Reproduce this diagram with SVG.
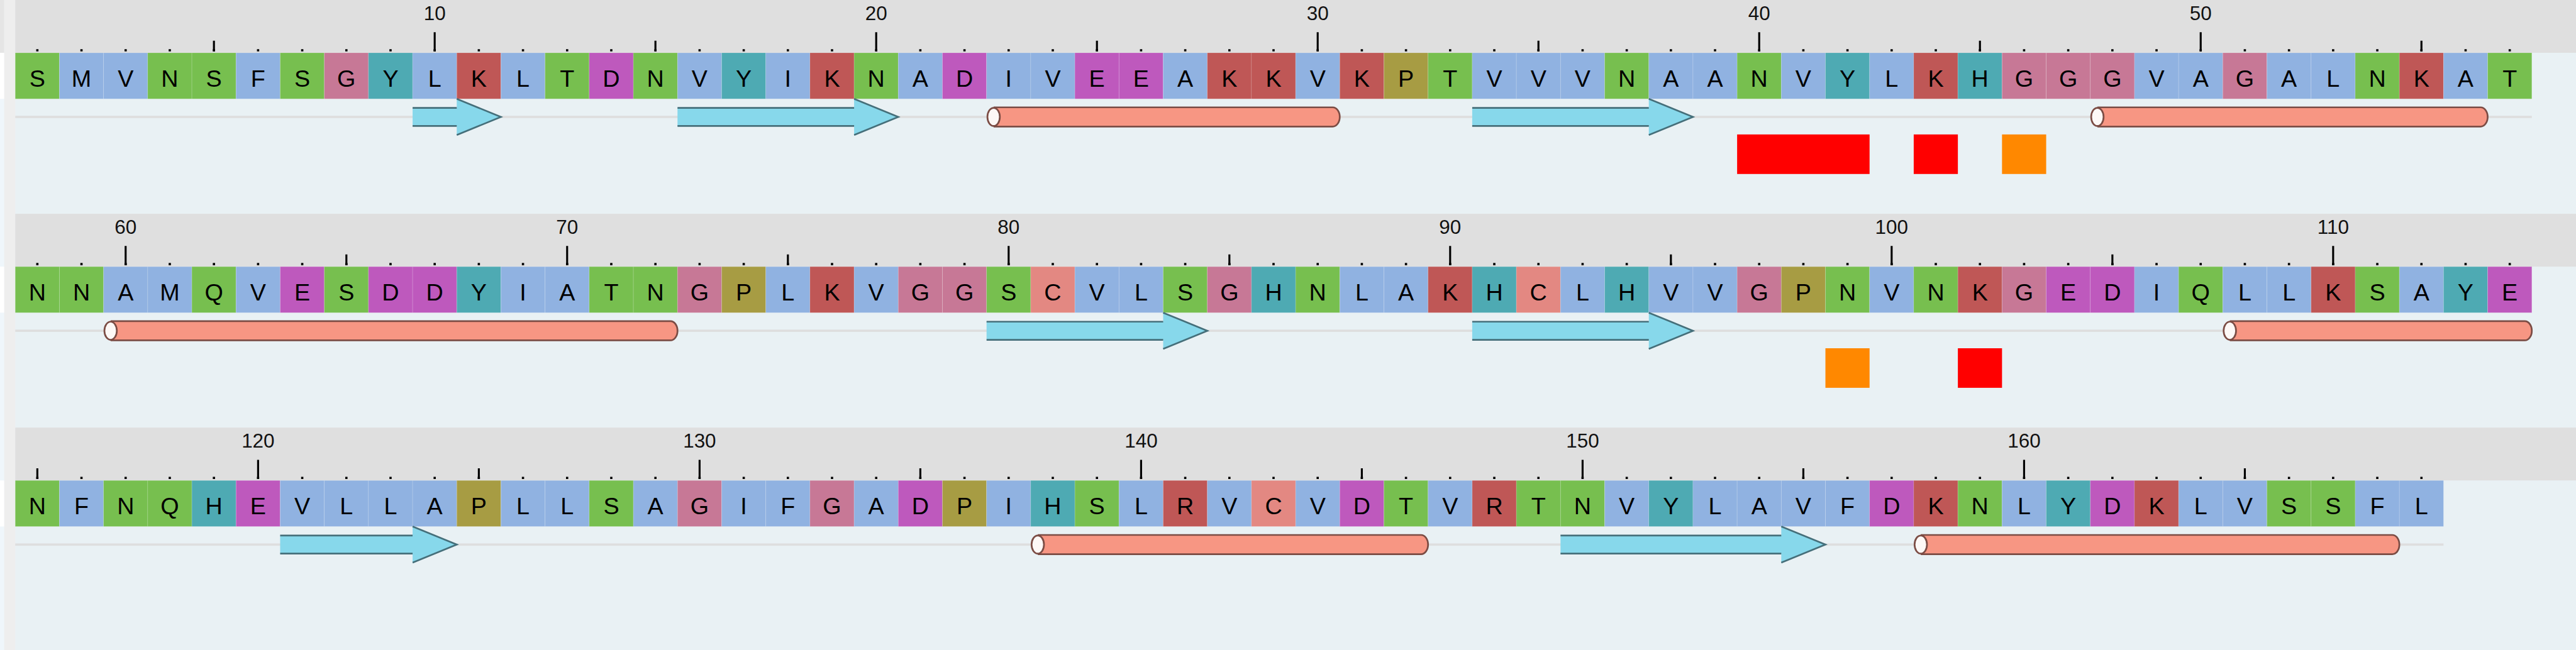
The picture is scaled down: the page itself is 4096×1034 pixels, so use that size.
<svg xmlns="http://www.w3.org/2000/svg" width="4096" height="1034" viewBox="0 0 4096 1034">
<defs>
<style>
.res rect{stroke:#ffffff;stroke-opacity:0.18;stroke-width:1}
.res text{font-family:"Liberation Sans",Arial,sans-serif;font-size:42px;text-anchor:middle;fill:#000}
.cg rect{fill:#77bf4f}
.cb rect{fill:#90b2e1}
.cG rect{fill:#c77896}
.cc rect{fill:#e38882}
.cy rect{fill:#4eaab3}
.ck rect{fill:#bf5756}
.cd rect{fill:#be59bd}
.cp rect{fill:#a79c43}
.band{fill:#dfdfdf}
.dots{stroke:#000;stroke-width:4;stroke-dasharray:4 74.12;fill:none}
.ticks{stroke:#000;stroke-width:3.5;fill:none}
.num{font-family:"Liberation Sans",Arial,sans-serif;font-size:35px;text-anchor:middle;fill:#111}
.ssline{fill:#dedede}
.sfill{fill:#87d8eb;stroke:none}
.sline{fill:none;stroke:#456f7a;stroke-width:3;stroke-linejoin:miter}
.hbody{fill:#f79683;stroke:#7b4c44;stroke-width:3}
.hend{fill:#fdf8f6;stroke:#7b4c44;stroke-width:3}
.red{fill:#ff0000}
.org{fill:#ff8800}
</style>
</defs>
<g transform="scale(0.898639)">
<rect x="0" y="0" width="4558" height="1151" fill="#e9f1f4"/>
<g id="left-strip">
<rect x="0" y="0" width="7.5" height="1151" fill="#eff6fb"/>
<rect x="0" y="0" width="7.5" height="93.5" fill="#e5e5e5"/>
<rect x="0" y="93.5" width="7.5" height="81.5" fill="#ffffff"/>
<rect x="0" y="472" width="7.5" height="81.5" fill="#ffffff"/>
<rect x="0" y="850.5" width="7.5" height="81.5" fill="#ffffff"/>
<rect x="7.5" y="0" width="19.5" height="1151" fill="#eeeeee"/>
</g>

<!-- ROW 1 -->
<g id="row1" transform="translate(0,0)">
<rect class="band" x="27" y="0" width="4531" height="93.5"/>
<path class="dots" d="M64.06 89H4443"/>
<path class="ticks" d="M378.54 72V91M1159.74 72V91M1940.94 72V91M2722.14 72V91M3503.34 72V91M4284.54 72V91M769.14 57V91M1550.34 57V91M2331.54 57V91M3112.74 57V91M3893.94 57V91"/>
<text class="num" x="769.14" y="35.5">10</text>
<text class="num" x="1550.34" y="35.5">20</text>
<text class="num" x="2331.54" y="35.5">30</text>
<text class="num" x="3112.74" y="35.5">40</text>
<text class="num" x="3893.94" y="35.5">50</text>
<g id="r1" class="res cg"><rect x="27" y="93.5" width="78.12" height="81.5"/><text x="66.06" y="153.5">S</text></g>
<g id="r2" class="res cb"><rect x="105.12" y="93.5" width="78.12" height="81.5"/><text x="144.18" y="153.5">M</text></g>
<g id="r3" class="res cb"><rect x="183.24" y="93.5" width="78.12" height="81.5"/><text x="222.3" y="153.5">V</text></g>
<g id="r4" class="res cg"><rect x="261.36" y="93.5" width="78.12" height="81.5"/><text x="300.42" y="153.5">N</text></g>
<g id="r5" class="res cg"><rect x="339.48" y="93.5" width="78.12" height="81.5"/><text x="378.54" y="153.5">S</text></g>
<g id="r6" class="res cb"><rect x="417.6" y="93.5" width="78.12" height="81.5"/><text x="456.66" y="153.5">F</text></g>
<g id="r7" class="res cg"><rect x="495.72" y="93.5" width="78.12" height="81.5"/><text x="534.78" y="153.5">S</text></g>
<g id="r8" class="res cG"><rect x="573.84" y="93.5" width="78.12" height="81.5"/><text x="612.9" y="153.5">G</text></g>
<g id="r9" class="res cy"><rect x="651.96" y="93.5" width="78.12" height="81.5"/><text x="691.02" y="153.5">Y</text></g>
<g id="r10" class="res cb"><rect x="730.08" y="93.5" width="78.12" height="81.5"/><text x="769.14" y="153.5">L</text></g>
<g id="r11" class="res ck"><rect x="808.2" y="93.5" width="78.12" height="81.5"/><text x="847.26" y="153.5">K</text></g>
<g id="r12" class="res cb"><rect x="886.32" y="93.5" width="78.12" height="81.5"/><text x="925.38" y="153.5">L</text></g>
<g id="r13" class="res cg"><rect x="964.44" y="93.5" width="78.12" height="81.5"/><text x="1003.5" y="153.5">T</text></g>
<g id="r14" class="res cd"><rect x="1042.56" y="93.5" width="78.12" height="81.5"/><text x="1081.62" y="153.5">D</text></g>
<g id="r15" class="res cg"><rect x="1120.68" y="93.5" width="78.12" height="81.5"/><text x="1159.74" y="153.5">N</text></g>
<g id="r16" class="res cb"><rect x="1198.8" y="93.5" width="78.12" height="81.5"/><text x="1237.86" y="153.5">V</text></g>
<g id="r17" class="res cy"><rect x="1276.92" y="93.5" width="78.12" height="81.5"/><text x="1315.98" y="153.5">Y</text></g>
<g id="r18" class="res cb"><rect x="1355.04" y="93.5" width="78.12" height="81.5"/><text x="1394.1" y="153.5">I</text></g>
<g id="r19" class="res ck"><rect x="1433.16" y="93.5" width="78.12" height="81.5"/><text x="1472.22" y="153.5">K</text></g>
<g id="r20" class="res cg"><rect x="1511.28" y="93.5" width="78.12" height="81.5"/><text x="1550.34" y="153.5">N</text></g>
<g id="r21" class="res cb"><rect x="1589.4" y="93.5" width="78.12" height="81.5"/><text x="1628.46" y="153.5">A</text></g>
<g id="r22" class="res cd"><rect x="1667.52" y="93.5" width="78.12" height="81.5"/><text x="1706.58" y="153.5">D</text></g>
<g id="r23" class="res cb"><rect x="1745.64" y="93.5" width="78.12" height="81.5"/><text x="1784.7" y="153.5">I</text></g>
<g id="r24" class="res cb"><rect x="1823.76" y="93.5" width="78.12" height="81.5"/><text x="1862.82" y="153.5">V</text></g>
<g id="r25" class="res cd"><rect x="1901.88" y="93.5" width="78.12" height="81.5"/><text x="1940.94" y="153.5">E</text></g>
<g id="r26" class="res cd"><rect x="1980" y="93.5" width="78.12" height="81.5"/><text x="2019.06" y="153.5">E</text></g>
<g id="r27" class="res cb"><rect x="2058.12" y="93.5" width="78.12" height="81.5"/><text x="2097.18" y="153.5">A</text></g>
<g id="r28" class="res ck"><rect x="2136.24" y="93.5" width="78.12" height="81.5"/><text x="2175.3" y="153.5">K</text></g>
<g id="r29" class="res ck"><rect x="2214.36" y="93.5" width="78.12" height="81.5"/><text x="2253.42" y="153.5">K</text></g>
<g id="r30" class="res cb"><rect x="2292.48" y="93.5" width="78.12" height="81.5"/><text x="2331.54" y="153.5">V</text></g>
<g id="r31" class="res ck"><rect x="2370.6" y="93.5" width="78.12" height="81.5"/><text x="2409.66" y="153.5">K</text></g>
<g id="r32" class="res cp"><rect x="2448.72" y="93.5" width="78.12" height="81.5"/><text x="2487.78" y="153.5">P</text></g>
<g id="r33" class="res cg"><rect x="2526.84" y="93.5" width="78.12" height="81.5"/><text x="2565.9" y="153.5">T</text></g>
<g id="r34" class="res cb"><rect x="2604.96" y="93.5" width="78.12" height="81.5"/><text x="2644.02" y="153.5">V</text></g>
<g id="r35" class="res cb"><rect x="2683.08" y="93.5" width="78.12" height="81.5"/><text x="2722.14" y="153.5">V</text></g>
<g id="r36" class="res cb"><rect x="2761.2" y="93.5" width="78.12" height="81.5"/><text x="2800.26" y="153.5">V</text></g>
<g id="r37" class="res cg"><rect x="2839.32" y="93.5" width="78.12" height="81.5"/><text x="2878.38" y="153.5">N</text></g>
<g id="r38" class="res cb"><rect x="2917.44" y="93.5" width="78.12" height="81.5"/><text x="2956.5" y="153.5">A</text></g>
<g id="r39" class="res cb"><rect x="2995.56" y="93.5" width="78.12" height="81.5"/><text x="3034.62" y="153.5">A</text></g>
<g id="r40" class="res cg"><rect x="3073.68" y="93.5" width="78.12" height="81.5"/><text x="3112.74" y="153.5">N</text></g>
<g id="r41" class="res cb"><rect x="3151.8" y="93.5" width="78.12" height="81.5"/><text x="3190.86" y="153.5">V</text></g>
<g id="r42" class="res cy"><rect x="3229.92" y="93.5" width="78.12" height="81.5"/><text x="3268.98" y="153.5">Y</text></g>
<g id="r43" class="res cb"><rect x="3308.04" y="93.5" width="78.12" height="81.5"/><text x="3347.1" y="153.5">L</text></g>
<g id="r44" class="res ck"><rect x="3386.16" y="93.5" width="78.12" height="81.5"/><text x="3425.22" y="153.5">K</text></g>
<g id="r45" class="res cy"><rect x="3464.28" y="93.5" width="78.12" height="81.5"/><text x="3503.34" y="153.5">H</text></g>
<g id="r46" class="res cG"><rect x="3542.4" y="93.5" width="78.12" height="81.5"/><text x="3581.46" y="153.5">G</text></g>
<g id="r47" class="res cG"><rect x="3620.52" y="93.5" width="78.12" height="81.5"/><text x="3659.58" y="153.5">G</text></g>
<g id="r48" class="res cG"><rect x="3698.64" y="93.5" width="78.12" height="81.5"/><text x="3737.7" y="153.5">G</text></g>
<g id="r49" class="res cb"><rect x="3776.76" y="93.5" width="78.12" height="81.5"/><text x="3815.82" y="153.5">V</text></g>
<g id="r50" class="res cb"><rect x="3854.88" y="93.5" width="78.12" height="81.5"/><text x="3893.94" y="153.5">A</text></g>
<g id="r51" class="res cG"><rect x="3933" y="93.5" width="78.12" height="81.5"/><text x="3972.06" y="153.5">G</text></g>
<g id="r52" class="res cb"><rect x="4011.12" y="93.5" width="78.12" height="81.5"/><text x="4050.18" y="153.5">A</text></g>
<g id="r53" class="res cb"><rect x="4089.24" y="93.5" width="78.12" height="81.5"/><text x="4128.3" y="153.5">L</text></g>
<g id="r54" class="res cg"><rect x="4167.36" y="93.5" width="78.12" height="81.5"/><text x="4206.42" y="153.5">N</text></g>
<g id="r55" class="res ck"><rect x="4245.48" y="93.5" width="78.12" height="81.5"/><text x="4284.54" y="153.5">K</text></g>
<g id="r56" class="res cb"><rect x="4323.6" y="93.5" width="78.12" height="81.5"/><text x="4362.66" y="153.5">A</text></g>
<g id="r57" class="res cg"><rect x="4401.72" y="93.5" width="78.12" height="81.5"/><text x="4440.78" y="153.5">T</text></g>
</g>

<!-- ROW 2 -->
<g id="row2" transform="translate(0,378.5)">
<rect class="band" x="27" y="0" width="4531" height="93.5"/>
<path class="dots" d="M64.06 89H4443"/>
<path class="ticks" d="M612.9 72V91M1394.1 72V91M2175.3 72V91M2956.5 72V91M3737.7 72V91M222.3 57V91M1003.5 57V91M1784.7 57V91M2565.9 57V91M3347.1 57V91M4128.3 57V91"/>
<text class="num" x="222.3" y="35.5">60</text>
<text class="num" x="1003.5" y="35.5">70</text>
<text class="num" x="1784.7" y="35.5">80</text>
<text class="num" x="2565.9" y="35.5">90</text>
<text class="num" x="3347.1" y="35.5">100</text>
<text class="num" x="4128.3" y="35.5">110</text>
<g id="r58" class="res cg"><rect x="27" y="93.5" width="78.12" height="81.5"/><text x="66.06" y="153.5">N</text></g>
<g id="r59" class="res cg"><rect x="105.12" y="93.5" width="78.12" height="81.5"/><text x="144.18" y="153.5">N</text></g>
<g id="r60" class="res cb"><rect x="183.24" y="93.5" width="78.12" height="81.5"/><text x="222.3" y="153.5">A</text></g>
<g id="r61" class="res cb"><rect x="261.36" y="93.5" width="78.12" height="81.5"/><text x="300.42" y="153.5">M</text></g>
<g id="r62" class="res cg"><rect x="339.48" y="93.5" width="78.12" height="81.5"/><text x="378.54" y="153.5">Q</text></g>
<g id="r63" class="res cb"><rect x="417.6" y="93.5" width="78.12" height="81.5"/><text x="456.66" y="153.5">V</text></g>
<g id="r64" class="res cd"><rect x="495.72" y="93.5" width="78.12" height="81.5"/><text x="534.78" y="153.5">E</text></g>
<g id="r65" class="res cg"><rect x="573.84" y="93.5" width="78.12" height="81.5"/><text x="612.9" y="153.5">S</text></g>
<g id="r66" class="res cd"><rect x="651.96" y="93.5" width="78.12" height="81.5"/><text x="691.02" y="153.5">D</text></g>
<g id="r67" class="res cd"><rect x="730.08" y="93.5" width="78.12" height="81.5"/><text x="769.14" y="153.5">D</text></g>
<g id="r68" class="res cy"><rect x="808.2" y="93.5" width="78.12" height="81.5"/><text x="847.26" y="153.5">Y</text></g>
<g id="r69" class="res cb"><rect x="886.32" y="93.5" width="78.12" height="81.5"/><text x="925.38" y="153.5">I</text></g>
<g id="r70" class="res cb"><rect x="964.44" y="93.5" width="78.12" height="81.5"/><text x="1003.5" y="153.5">A</text></g>
<g id="r71" class="res cg"><rect x="1042.56" y="93.5" width="78.12" height="81.5"/><text x="1081.62" y="153.5">T</text></g>
<g id="r72" class="res cg"><rect x="1120.68" y="93.5" width="78.12" height="81.5"/><text x="1159.74" y="153.5">N</text></g>
<g id="r73" class="res cG"><rect x="1198.8" y="93.5" width="78.12" height="81.5"/><text x="1237.86" y="153.5">G</text></g>
<g id="r74" class="res cp"><rect x="1276.92" y="93.5" width="78.12" height="81.5"/><text x="1315.98" y="153.5">P</text></g>
<g id="r75" class="res cb"><rect x="1355.04" y="93.5" width="78.12" height="81.5"/><text x="1394.1" y="153.5">L</text></g>
<g id="r76" class="res ck"><rect x="1433.16" y="93.5" width="78.12" height="81.5"/><text x="1472.22" y="153.5">K</text></g>
<g id="r77" class="res cb"><rect x="1511.28" y="93.5" width="78.12" height="81.5"/><text x="1550.34" y="153.5">V</text></g>
<g id="r78" class="res cG"><rect x="1589.4" y="93.5" width="78.12" height="81.5"/><text x="1628.46" y="153.5">G</text></g>
<g id="r79" class="res cG"><rect x="1667.52" y="93.5" width="78.12" height="81.5"/><text x="1706.58" y="153.5">G</text></g>
<g id="r80" class="res cg"><rect x="1745.64" y="93.5" width="78.12" height="81.5"/><text x="1784.7" y="153.5">S</text></g>
<g id="r81" class="res cc"><rect x="1823.76" y="93.5" width="78.12" height="81.5"/><text x="1862.82" y="153.5">C</text></g>
<g id="r82" class="res cb"><rect x="1901.88" y="93.5" width="78.12" height="81.5"/><text x="1940.94" y="153.5">V</text></g>
<g id="r83" class="res cb"><rect x="1980" y="93.5" width="78.12" height="81.5"/><text x="2019.06" y="153.5">L</text></g>
<g id="r84" class="res cg"><rect x="2058.12" y="93.5" width="78.12" height="81.5"/><text x="2097.18" y="153.5">S</text></g>
<g id="r85" class="res cG"><rect x="2136.24" y="93.5" width="78.12" height="81.5"/><text x="2175.3" y="153.5">G</text></g>
<g id="r86" class="res cy"><rect x="2214.36" y="93.5" width="78.12" height="81.5"/><text x="2253.42" y="153.5">H</text></g>
<g id="r87" class="res cg"><rect x="2292.48" y="93.5" width="78.12" height="81.5"/><text x="2331.54" y="153.5">N</text></g>
<g id="r88" class="res cb"><rect x="2370.6" y="93.5" width="78.12" height="81.5"/><text x="2409.66" y="153.5">L</text></g>
<g id="r89" class="res cb"><rect x="2448.72" y="93.5" width="78.12" height="81.5"/><text x="2487.78" y="153.5">A</text></g>
<g id="r90" class="res ck"><rect x="2526.84" y="93.5" width="78.12" height="81.5"/><text x="2565.9" y="153.5">K</text></g>
<g id="r91" class="res cy"><rect x="2604.96" y="93.5" width="78.12" height="81.5"/><text x="2644.02" y="153.5">H</text></g>
<g id="r92" class="res cc"><rect x="2683.08" y="93.5" width="78.12" height="81.5"/><text x="2722.14" y="153.5">C</text></g>
<g id="r93" class="res cb"><rect x="2761.2" y="93.5" width="78.12" height="81.5"/><text x="2800.26" y="153.5">L</text></g>
<g id="r94" class="res cy"><rect x="2839.32" y="93.5" width="78.12" height="81.5"/><text x="2878.38" y="153.5">H</text></g>
<g id="r95" class="res cb"><rect x="2917.44" y="93.5" width="78.12" height="81.5"/><text x="2956.5" y="153.5">V</text></g>
<g id="r96" class="res cb"><rect x="2995.56" y="93.5" width="78.12" height="81.5"/><text x="3034.62" y="153.5">V</text></g>
<g id="r97" class="res cG"><rect x="3073.68" y="93.5" width="78.12" height="81.5"/><text x="3112.74" y="153.5">G</text></g>
<g id="r98" class="res cp"><rect x="3151.8" y="93.5" width="78.12" height="81.5"/><text x="3190.86" y="153.5">P</text></g>
<g id="r99" class="res cg"><rect x="3229.92" y="93.5" width="78.12" height="81.5"/><text x="3268.98" y="153.5">N</text></g>
<g id="r100" class="res cb"><rect x="3308.04" y="93.5" width="78.12" height="81.5"/><text x="3347.1" y="153.5">V</text></g>
<g id="r101" class="res cg"><rect x="3386.16" y="93.5" width="78.12" height="81.5"/><text x="3425.22" y="153.5">N</text></g>
<g id="r102" class="res ck"><rect x="3464.28" y="93.5" width="78.12" height="81.5"/><text x="3503.34" y="153.5">K</text></g>
<g id="r103" class="res cG"><rect x="3542.4" y="93.5" width="78.12" height="81.5"/><text x="3581.46" y="153.5">G</text></g>
<g id="r104" class="res cd"><rect x="3620.52" y="93.5" width="78.12" height="81.5"/><text x="3659.58" y="153.5">E</text></g>
<g id="r105" class="res cd"><rect x="3698.64" y="93.5" width="78.12" height="81.5"/><text x="3737.7" y="153.5">D</text></g>
<g id="r106" class="res cb"><rect x="3776.76" y="93.5" width="78.12" height="81.5"/><text x="3815.82" y="153.5">I</text></g>
<g id="r107" class="res cg"><rect x="3854.88" y="93.5" width="78.12" height="81.5"/><text x="3893.94" y="153.5">Q</text></g>
<g id="r108" class="res cb"><rect x="3933" y="93.5" width="78.12" height="81.5"/><text x="3972.06" y="153.5">L</text></g>
<g id="r109" class="res cb"><rect x="4011.12" y="93.5" width="78.12" height="81.5"/><text x="4050.18" y="153.5">L</text></g>
<g id="r110" class="res ck"><rect x="4089.24" y="93.5" width="78.12" height="81.5"/><text x="4128.3" y="153.5">K</text></g>
<g id="r111" class="res cg"><rect x="4167.36" y="93.5" width="78.12" height="81.5"/><text x="4206.42" y="153.5">S</text></g>
<g id="r112" class="res cb"><rect x="4245.48" y="93.5" width="78.12" height="81.5"/><text x="4284.54" y="153.5">A</text></g>
<g id="r113" class="res cy"><rect x="4323.6" y="93.5" width="78.12" height="81.5"/><text x="4362.66" y="153.5">Y</text></g>
<g id="r114" class="res cd"><rect x="4401.72" y="93.5" width="78.12" height="81.5"/><text x="4440.78" y="153.5">E</text></g>
</g>

<!-- ROW 3 -->
<g id="row3" transform="translate(0,757)">
<rect class="band" x="27" y="0" width="4531" height="93.5"/>
<path class="dots" d="M64.06 89H4287"/>
<path class="ticks" d="M66.06 72V91M847.26 72V91M1628.46 72V91M2409.66 72V91M3190.86 72V91M3972.06 72V91M456.66 57V91M1237.86 57V91M2019.06 57V91M2800.26 57V91M3581.46 57V91"/>
<text class="num" x="456.66" y="35.5">120</text>
<text class="num" x="1237.86" y="35.5">130</text>
<text class="num" x="2019.06" y="35.5">140</text>
<text class="num" x="2800.26" y="35.5">150</text>
<text class="num" x="3581.46" y="35.5">160</text>
<g id="r115" class="res cg"><rect x="27" y="93.5" width="78.12" height="81.5"/><text x="66.06" y="153.5">N</text></g>
<g id="r116" class="res cb"><rect x="105.12" y="93.5" width="78.12" height="81.5"/><text x="144.18" y="153.5">F</text></g>
<g id="r117" class="res cg"><rect x="183.24" y="93.5" width="78.12" height="81.5"/><text x="222.3" y="153.5">N</text></g>
<g id="r118" class="res cg"><rect x="261.36" y="93.5" width="78.12" height="81.5"/><text x="300.42" y="153.5">Q</text></g>
<g id="r119" class="res cy"><rect x="339.48" y="93.5" width="78.12" height="81.5"/><text x="378.54" y="153.5">H</text></g>
<g id="r120" class="res cd"><rect x="417.6" y="93.5" width="78.12" height="81.5"/><text x="456.66" y="153.5">E</text></g>
<g id="r121" class="res cb"><rect x="495.72" y="93.5" width="78.12" height="81.5"/><text x="534.78" y="153.5">V</text></g>
<g id="r122" class="res cb"><rect x="573.84" y="93.5" width="78.12" height="81.5"/><text x="612.9" y="153.5">L</text></g>
<g id="r123" class="res cb"><rect x="651.96" y="93.5" width="78.12" height="81.5"/><text x="691.02" y="153.5">L</text></g>
<g id="r124" class="res cb"><rect x="730.08" y="93.5" width="78.12" height="81.5"/><text x="769.14" y="153.5">A</text></g>
<g id="r125" class="res cp"><rect x="808.2" y="93.5" width="78.12" height="81.5"/><text x="847.26" y="153.5">P</text></g>
<g id="r126" class="res cb"><rect x="886.32" y="93.5" width="78.12" height="81.5"/><text x="925.38" y="153.5">L</text></g>
<g id="r127" class="res cb"><rect x="964.44" y="93.5" width="78.12" height="81.5"/><text x="1003.5" y="153.5">L</text></g>
<g id="r128" class="res cg"><rect x="1042.56" y="93.5" width="78.12" height="81.5"/><text x="1081.62" y="153.5">S</text></g>
<g id="r129" class="res cb"><rect x="1120.68" y="93.5" width="78.12" height="81.5"/><text x="1159.74" y="153.5">A</text></g>
<g id="r130" class="res cG"><rect x="1198.8" y="93.5" width="78.12" height="81.5"/><text x="1237.86" y="153.5">G</text></g>
<g id="r131" class="res cb"><rect x="1276.92" y="93.5" width="78.12" height="81.5"/><text x="1315.98" y="153.5">I</text></g>
<g id="r132" class="res cb"><rect x="1355.04" y="93.5" width="78.12" height="81.5"/><text x="1394.1" y="153.5">F</text></g>
<g id="r133" class="res cG"><rect x="1433.16" y="93.5" width="78.12" height="81.5"/><text x="1472.22" y="153.5">G</text></g>
<g id="r134" class="res cb"><rect x="1511.28" y="93.5" width="78.12" height="81.5"/><text x="1550.34" y="153.5">A</text></g>
<g id="r135" class="res cd"><rect x="1589.4" y="93.5" width="78.12" height="81.5"/><text x="1628.46" y="153.5">D</text></g>
<g id="r136" class="res cp"><rect x="1667.52" y="93.5" width="78.12" height="81.5"/><text x="1706.58" y="153.5">P</text></g>
<g id="r137" class="res cb"><rect x="1745.64" y="93.5" width="78.12" height="81.5"/><text x="1784.7" y="153.5">I</text></g>
<g id="r138" class="res cy"><rect x="1823.76" y="93.5" width="78.12" height="81.5"/><text x="1862.82" y="153.5">H</text></g>
<g id="r139" class="res cg"><rect x="1901.88" y="93.5" width="78.12" height="81.5"/><text x="1940.94" y="153.5">S</text></g>
<g id="r140" class="res cb"><rect x="1980" y="93.5" width="78.12" height="81.5"/><text x="2019.06" y="153.5">L</text></g>
<g id="r141" class="res ck"><rect x="2058.12" y="93.5" width="78.12" height="81.5"/><text x="2097.18" y="153.5">R</text></g>
<g id="r142" class="res cb"><rect x="2136.24" y="93.5" width="78.12" height="81.5"/><text x="2175.3" y="153.5">V</text></g>
<g id="r143" class="res cc"><rect x="2214.36" y="93.5" width="78.12" height="81.5"/><text x="2253.42" y="153.5">C</text></g>
<g id="r144" class="res cb"><rect x="2292.48" y="93.5" width="78.12" height="81.5"/><text x="2331.54" y="153.5">V</text></g>
<g id="r145" class="res cd"><rect x="2370.6" y="93.5" width="78.12" height="81.5"/><text x="2409.66" y="153.5">D</text></g>
<g id="r146" class="res cg"><rect x="2448.72" y="93.5" width="78.12" height="81.5"/><text x="2487.78" y="153.5">T</text></g>
<g id="r147" class="res cb"><rect x="2526.84" y="93.5" width="78.12" height="81.5"/><text x="2565.9" y="153.5">V</text></g>
<g id="r148" class="res ck"><rect x="2604.96" y="93.5" width="78.12" height="81.5"/><text x="2644.02" y="153.5">R</text></g>
<g id="r149" class="res cg"><rect x="2683.08" y="93.5" width="78.12" height="81.5"/><text x="2722.14" y="153.5">T</text></g>
<g id="r150" class="res cg"><rect x="2761.2" y="93.5" width="78.12" height="81.5"/><text x="2800.26" y="153.5">N</text></g>
<g id="r151" class="res cb"><rect x="2839.32" y="93.5" width="78.12" height="81.5"/><text x="2878.38" y="153.5">V</text></g>
<g id="r152" class="res cy"><rect x="2917.44" y="93.5" width="78.12" height="81.5"/><text x="2956.5" y="153.5">Y</text></g>
<g id="r153" class="res cb"><rect x="2995.56" y="93.5" width="78.12" height="81.5"/><text x="3034.62" y="153.5">L</text></g>
<g id="r154" class="res cb"><rect x="3073.68" y="93.5" width="78.12" height="81.5"/><text x="3112.74" y="153.5">A</text></g>
<g id="r155" class="res cb"><rect x="3151.8" y="93.5" width="78.12" height="81.5"/><text x="3190.86" y="153.5">V</text></g>
<g id="r156" class="res cb"><rect x="3229.92" y="93.5" width="78.12" height="81.5"/><text x="3268.98" y="153.5">F</text></g>
<g id="r157" class="res cd"><rect x="3308.04" y="93.5" width="78.12" height="81.5"/><text x="3347.1" y="153.5">D</text></g>
<g id="r158" class="res ck"><rect x="3386.16" y="93.5" width="78.12" height="81.5"/><text x="3425.22" y="153.5">K</text></g>
<g id="r159" class="res cg"><rect x="3464.28" y="93.5" width="78.12" height="81.5"/><text x="3503.34" y="153.5">N</text></g>
<g id="r160" class="res cb"><rect x="3542.4" y="93.5" width="78.12" height="81.5"/><text x="3581.46" y="153.5">L</text></g>
<g id="r161" class="res cy"><rect x="3620.52" y="93.5" width="78.12" height="81.5"/><text x="3659.58" y="153.5">Y</text></g>
<g id="r162" class="res cd"><rect x="3698.64" y="93.5" width="78.12" height="81.5"/><text x="3737.7" y="153.5">D</text></g>
<g id="r163" class="res ck"><rect x="3776.76" y="93.5" width="78.12" height="81.5"/><text x="3815.82" y="153.5">K</text></g>
<g id="r164" class="res cb"><rect x="3854.88" y="93.5" width="78.12" height="81.5"/><text x="3893.94" y="153.5">L</text></g>
<g id="r165" class="res cb"><rect x="3933" y="93.5" width="78.12" height="81.5"/><text x="3972.06" y="153.5">V</text></g>
<g id="r166" class="res cg"><rect x="4011.12" y="93.5" width="78.12" height="81.5"/><text x="4050.18" y="153.5">S</text></g>
<g id="r167" class="res cg"><rect x="4089.24" y="93.5" width="78.12" height="81.5"/><text x="4128.3" y="153.5">S</text></g>
<g id="r168" class="res cb"><rect x="4167.36" y="93.5" width="78.12" height="81.5"/><text x="4206.42" y="153.5">F</text></g>
<g id="r169" class="res cb"><rect x="4245.48" y="93.5" width="78.12" height="81.5"/><text x="4284.54" y="153.5">L</text></g>
</g>

<!-- secondary structure tracks -->
<g id="secondary-structure">
<g id="ss-row1">
<rect class="ssline" x="27" y="205" width="4452.84" height="4"/>
<g id="strand-10-11"><path class="sfill" d="M730.08 191H808.2V175L886.32 207L808.2 239V223H730.08Z"/><path class="sline" d="M730.08 191H808.2M808.2 175L886.32 207L808.2 239M808.2 223H730.08"/></g>
<g id="strand-16-20"><path class="sfill" d="M1198.8 191H1511.28V175L1589.4 207L1511.28 239V223H1198.8Z"/><path class="sline" d="M1198.8 191H1511.28M1511.28 175L1589.4 207L1511.28 239M1511.28 223H1198.8"/></g>
<g id="helix-23-30"><path class="hbody" d="M1758.14 190H2358.1A12.5 17 0 0 1 2358.1 224H1758.14"/><ellipse class="hend" cx="1758.14" cy="207" rx="11" ry="16"/></g>
<g id="strand-34-38"><path class="sfill" d="M2604.96 191H2917.44V175L2995.56 207L2917.44 239V223H2604.96Z"/><path class="sline" d="M2604.96 191H2917.44M2917.44 175L2995.56 207L2917.44 239M2917.44 223H2604.96"/></g>
<g id="helix-48-56"><path class="hbody" d="M3711.14 190H4389.22A12.5 17 0 0 1 4389.22 224H3711.14"/><ellipse class="hend" cx="3711.14" cy="207" rx="11" ry="16"/></g>
</g>
<g id="ss-row2" transform="translate(0,378.5)">
<rect class="ssline" x="27" y="205" width="4452.84" height="4"/>
<g id="helix-60-72"><path class="hbody" d="M195.74 190H1186.3A12.5 17 0 0 1 1186.3 224H195.74"/><ellipse class="hend" cx="195.74" cy="207" rx="11" ry="16"/></g>
<g id="strand-80-84"><path class="sfill" d="M1745.64 191H2058.12V175L2136.24 207L2058.12 239V223H1745.64Z"/><path class="sline" d="M1745.64 191H2058.12M2058.12 175L2136.24 207L2058.12 239M2058.12 223H1745.64"/></g>
<g id="strand-91-95"><path class="sfill" d="M2604.96 191H2917.44V175L2995.56 207L2917.44 239V223H2604.96Z"/><path class="sline" d="M2604.96 191H2917.44M2917.44 175L2995.56 207L2917.44 239M2917.44 223H2604.96"/></g>
<g id="helix-108-114"><path class="hbody" d="M3945.5 190H4467.34A12.5 17 0 0 1 4467.34 224H3945.5"/><ellipse class="hend" cx="3945.5" cy="207" rx="11" ry="16"/></g>
</g>
<g id="ss-row3" transform="translate(0,757)">
<rect class="ssline" x="27" y="205" width="4296.6" height="4"/>
<g id="strand-121-124"><path class="sfill" d="M495.72 191H730.08V175L808.2 207L730.08 239V223H495.72Z"/><path class="sline" d="M495.72 191H730.08M730.08 175L808.2 207L730.08 239M730.08 223H495.72"/></g>
<g id="helix-138-146"><path class="hbody" d="M1836.26 190H2514.34A12.5 17 0 0 1 2514.34 224H1836.26"/><ellipse class="hend" cx="1836.26" cy="207" rx="11" ry="16"/></g>
<g id="strand-150-155"><path class="sfill" d="M2761.2 191H3151.8V175L3229.92 207L3151.8 239V223H2761.2Z"/><path class="sline" d="M2761.2 191H3151.8M3151.8 175L3229.92 207L3151.8 239M3151.8 223H2761.2"/></g>
<g id="helix-158-168"><path class="hbody" d="M3398.66 190H4232.98A12.5 17 0 0 1 4232.98 224H3398.66"/><ellipse class="hend" cx="3398.66" cy="207" rx="11" ry="16"/></g>
</g>
</g>

<!-- annotation boxes -->
<g id="annotations">
<rect class="red" x="3073.68" y="238" width="234.36" height="70"/>
<rect class="red" x="3386.16" y="238" width="78.12" height="70"/>
<rect class="org" x="3542.4" y="238" width="78.12" height="70"/>
<rect class="org" x="3229.92" y="616.5" width="78.12" height="70"/>
<rect class="red" x="3464.28" y="616.5" width="78.12" height="70"/>
</g>
</g>
</svg>
